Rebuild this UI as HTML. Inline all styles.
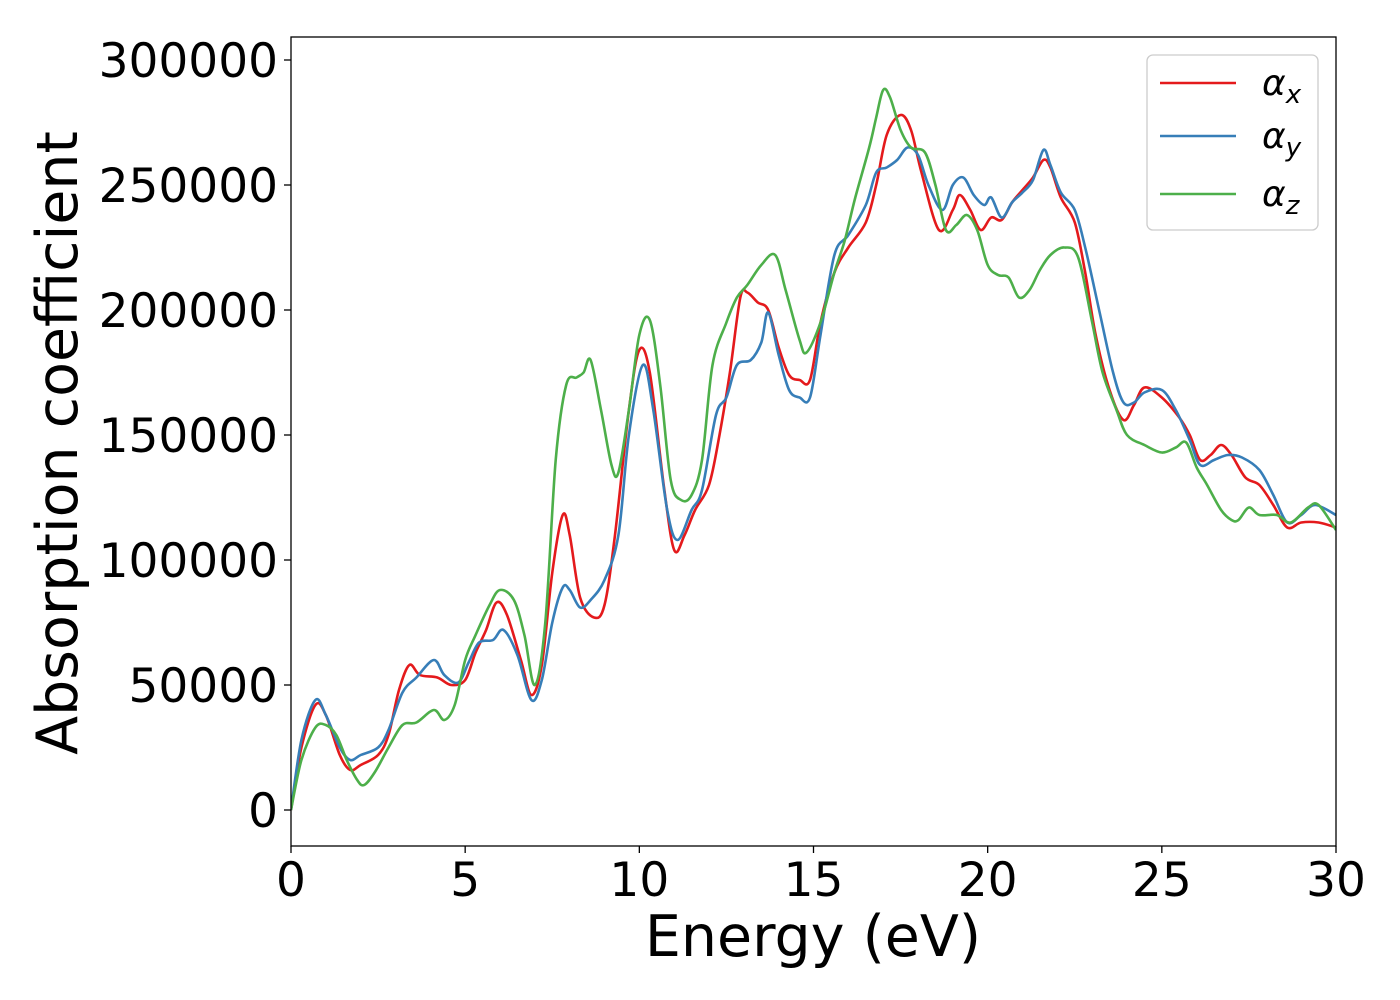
<!DOCTYPE html>
<html><head><meta charset="utf-8"><style>
body{margin:0;background:#fff;}
svg{display:block;font-family:"DejaVu Sans","Liberation Sans",sans-serif;}
</style></head><body>
<svg id="chart" width="1400" height="1000">
<rect width="1400" height="1000" fill="#fff"/>
<g id="plot"></g>
</svg>
<script>
const xTicks=[0,5,10,15,20,25,30];
const yTicks=[0,50000,100000,150000,200000,250000,300000];
const seriesNames=["x","y","z"];
const seriesColors=["#e41a1c","#377eb8","#4daf4a"];
const energyX=[0,0.3,0.7,1.0,1.4,1.7,2.0,2.5,2.8,3.1,3.4,3.7,4.2,4.6,5.0,5.3,5.6,5.9,6.2,6.6,6.9,7.2,7.5,7.8,8.0,8.3,8.7,9.0,9.3,9.7,10.0,10.3,10.7,11.0,11.3,11.6,12.0,12.3,12.6,12.9,13.1,13.4,13.7,14.0,14.3,14.6,14.9,15.2,15.6,16.0,16.5,16.8,17.1,17.5,17.8,18.1,18.6,19.0,19.2,19.5,19.8,20.1,20.4,20.7,21.0,21.3,21.6,21.8,22.1,22.5,22.8,23.1,23.5,23.9,24.2,24.5,25.0,25.5,25.8,26.1,26.4,26.7,27.0,27.4,27.8,28.2,28.6,29.0,29.5,30];
const alphaX=[0,25000,42000,38000,22000,16000,18000,22000,30000,48000,58000,54000,53000,50000,52000,63000,72000,83000,78000,60000,46000,58000,95000,118000,110000,85000,77000,82000,110000,160000,184000,175000,130000,104000,110000,120000,130000,150000,175000,205000,207000,203000,200000,185000,174000,172000,172000,195000,215000,225000,235000,250000,270000,278000,272000,255000,232000,240000,246000,240000,232000,237000,236000,243000,248000,253000,260000,257000,245000,235000,215000,190000,168000,156000,162000,169000,165000,157000,150000,140000,142000,146000,142000,133000,130000,122000,113000,115000,115000,113000];
const energyY=[0,0.3,0.7,1.0,1.4,1.7,2.0,2.5,2.8,3.2,3.6,4.1,4.4,4.8,5.1,5.4,5.8,6.1,6.5,6.9,7.2,7.5,7.8,8.0,8.3,8.6,9.0,9.4,9.7,10.1,10.4,10.8,11.1,11.5,11.8,12.2,12.5,12.8,13.2,13.5,13.7,14.0,14.3,14.6,14.9,15.2,15.6,16.0,16.5,16.8,17.1,17.4,17.7,18.0,18.3,18.7,19.0,19.3,19.6,19.9,20.1,20.4,20.7,21.0,21.3,21.6,21.8,22.1,22.5,22.8,23.2,23.6,23.9,24.2,24.5,25.0,25.4,25.8,26.1,26.5,26.9,27.3,27.8,28.2,28.6,29.0,29.4,30];
const alphaY=[0,28000,44000,38000,25000,20000,22000,25000,32000,47000,53000,60000,54000,51000,59000,67000,68000,72000,62000,44000,52000,75000,89000,88000,81000,84000,92000,110000,150000,178000,160000,120000,108000,120000,128000,158000,165000,178000,180000,187000,199000,182000,168000,165000,165000,190000,222000,230000,242000,255000,257000,260000,265000,262000,250000,240000,250000,253000,246000,242000,245000,237000,243000,247000,252000,264000,258000,247000,240000,225000,200000,175000,163000,163000,167000,168000,160000,148000,138000,140000,142000,141000,136000,126000,115000,118000,122000,118000];
const energyZ=[0,0.3,0.7,1.0,1.3,1.6,1.9,2.1,2.4,2.8,3.2,3.6,4.1,4.4,4.7,5.0,5.3,5.7,6.0,6.4,6.7,7.0,7.3,7.6,7.9,8.2,8.4,8.6,8.9,9.2,9.4,9.7,10.0,10.3,10.6,10.9,11.2,11.5,11.8,12.1,12.5,12.8,13.1,13.5,13.9,14.2,14.6,14.8,15.2,15.6,15.9,16.2,16.6,16.8,17.0,17.2,17.5,17.8,18.2,18.5,18.8,19.1,19.4,19.7,20.0,20.3,20.6,20.9,21.2,21.5,21.8,22.2,22.6,23.0,23.3,23.7,24.0,24.5,25.0,25.4,25.7,26.0,26.3,26.7,27.0,27.2,27.5,27.8,28.3,28.7,29.2,29.5,30];
const alphaZ=[0,20000,33000,34000,30000,20000,12000,10000,15000,25000,34000,35000,40000,36000,42000,60000,70000,82000,88000,84000,70000,50000,75000,140000,170000,173000,175000,180000,160000,138000,135000,160000,190000,196000,170000,132000,124000,126000,140000,178000,195000,205000,210000,218000,222000,208000,188000,183000,195000,215000,228000,245000,265000,277000,288000,285000,272000,265000,263000,250000,232000,234000,238000,232000,218000,214000,213000,205000,208000,216000,222000,225000,221000,195000,175000,160000,150000,146000,143000,145000,147000,137000,130000,120000,116000,116000,121000,118000,118000,115000,121000,122000,112000];

const L=291,R=1336,T=37,B=846;
const xMin=0,xMax=30,yMin=-14400,yMax=309200;
const sx=v=>L+(v-xMin)/(xMax-xMin)*(R-L);
const sy=v=>B-(v-yMin)/(yMax-yMin)*(B-T);
const NS="http://www.w3.org/2000/svg";
const plot=document.getElementById('plot');
function mk(tag,attrs,parent){const e=document.createElementNS(NS,tag);for(const k in attrs)e.setAttribute(k,attrs[k]);(parent||plot).appendChild(e);return e;}
function smoothPath(xs,ys){
  const p=xs.map((x,i)=>[sx(x),sy(ys[i])]);
  let d="M"+p[0][0].toFixed(1)+","+p[0][1].toFixed(1);
  for(let i=0;i<p.length-1;i++){
    const p0=p[Math.max(i-1,0)],p1=p[i],p2=p[i+1],p3=p[Math.min(i+2,p.length-1)];
    const c1=[p1[0]+(p2[0]-p0[0])/6,p1[1]+(p2[1]-p0[1])/6];
    const c2=[p2[0]-(p3[0]-p1[0])/6,p2[1]-(p3[1]-p1[1])/6];
    d+=" C"+c1.map(v=>v.toFixed(1))+" "+c2.map(v=>v.toFixed(1))+" "+p2.map(v=>v.toFixed(1));
  }
  return d;
}
const defs=mk('defs',{});
const cp=mk('clipPath',{id:'clip'},defs);
mk('rect',{x:L,y:T,width:R-L,height:B-T},cp);
const data=[[energyX,alphaX],[energyY,alphaY],[energyZ,alphaZ]];
data.forEach((s,i)=>{
  const path=mk('path',{d:smoothPath(s[0],s[1]),fill:'none',stroke:seriesColors[i],'stroke-width':2.6,'clip-path':'url(#clip)','stroke-linejoin':'round'});
  
  
});
const frame=mk('rect',{x:L,y:T,width:R-L,height:B-T,fill:'none',stroke:'#000','stroke-width':1.3});


xTicks.forEach(v=>{
  const tk=mk('line',{x1:sx(v),x2:sx(v),y1:B,y2:B+7,stroke:'#000','stroke-width':1.3});
  
  
  const t=mk('text',{x:sx(v),y:B+50,'text-anchor':'middle','font-size':47});
  t.textContent=v;
  
  
});
yTicks.forEach(v=>{
  const tk=mk('line',{x1:L-7,x2:L,y1:sy(v),y2:sy(v),stroke:'#000','stroke-width':1.3});
  
  
  const t=mk('text',{x:L-13,y:sy(v)+17,'text-anchor':'end','font-size':47});
  t.textContent=v;
  
  
});
const xl=mk('text',{x:813,y:956,'text-anchor':'middle','font-size':57});
xl.textContent='Energy (eV)';


const yl=mk('text',{x:0,y:0,'text-anchor':'middle','font-size':57,transform:'translate(77,443) rotate(-90)'});
yl.textContent='Absorption coefficient';


const lg=mk('g',{});


mk('rect',{x:1147,y:55,width:171,height:175,rx:6,fill:'#fff','fill-opacity':0.8,stroke:'#ccc','stroke-width':1.3},lg);
const ly=[83,136,194];
seriesNames.forEach((n,i)=>{
  const ln=mk('line',{x1:1160,x2:1236,y1:ly[i],y2:ly[i],stroke:seriesColors[i],'stroke-width':2.6},lg);
  
  
  const t=mk('text',{x:1262,y:ly[i]+12,'font-size':36,'font-style':'italic'},lg);
  
  
  t.textContent='α';
  const sub=mk('tspan',{'font-size':26,dy:8},t);
  sub.textContent=n;
});
</script>
</body></html>
